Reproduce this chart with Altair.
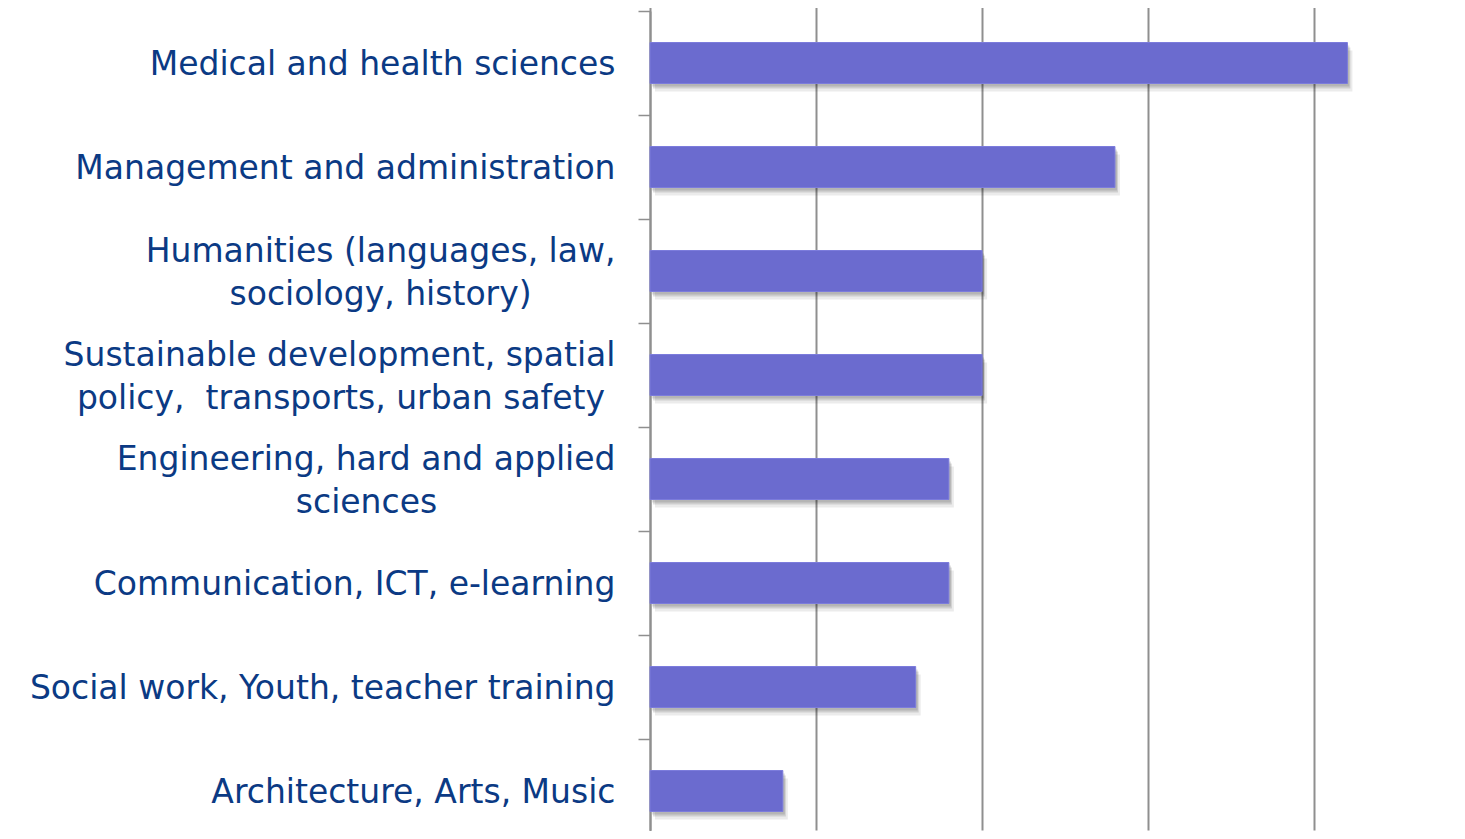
import altair as alt
import pandas as pd

NB = "\u00a0"
categories = [
    "Medical and health sciences",
    "Management and administration",
    "Humanities (languages, law,|sociology, history)" + NB * 8 + "\u200b",
    "Sustainable development, spatial|policy," + NB + " transports, urban safety" + NB + "\u200b",
    "Engineering, hard and applied|sciences" + NB * 17 + "\u200b",
    "Communication, ICT, e-learning",
    "Social work, Youth, teacher training",
    "Architecture, Arts, Music",
]
values = [21, 14, 10, 10, 9, 9, 8, 4]
grid_values = [0, 5, 10, 15, 20]

df = pd.DataFrame({"category": categories, "value": values})

FONT = "DejaVu Sans"
TEXT_COLOR = "#0b3a84"
BAR_COLOR = "#6b6bcf"
GRID_COLOR = "#8f8f8f"

y_enc = alt.Y(
    "category:N",
    sort=categories,
    title=None,
    scale=alt.Scale(range=[1, 833], paddingInner=0, paddingOuter=0),
    axis=alt.Axis(
        labelExpr="split(datum.label, '|')",
        labelFont=FONT,
        labelFontSize=33,
        labelColor=TEXT_COLOR,
        labelLimit=800,
        labelPadding=23,
        labelLineHeight=43,
        labelAlign="right",
        labelOffset={
            "condition": {"test": "indexof(datum.label, '|') >= 0", "value": -20},
            "value": 1,
        },
        tickBand="extent",
        tickSize=12,
        tickColor=GRID_COLOR,
        tickWidth=1.5,
        domainColor=GRID_COLOR,
        domainWidth=2,
        grid=False,
    ),
)

x_enc = alt.X(
    "value:Q",
    title=None,
    scale=alt.Scale(domain=[0, 24.3], nice=False, zero=True),
    axis=alt.Axis(
        values=grid_values,
        labels=False,
        ticks=False,
        domain=False,
        grid=True,
        gridColor=GRID_COLOR,
        gridWidth=2,
        gridOpacity=1,
    ),
)

base = alt.Chart(df)

shadow1 = base.mark_bar(color="#000000", opacity=0.08, size=41, xOffset=5, yOffset=8).encode(
    x=x_enc, y=y_enc
)
shadow2 = base.mark_bar(color="#000000", opacity=0.12, size=41, xOffset=3, yOffset=5).encode(
    x=x_enc, y=y_enc
)
shadow3 = base.mark_bar(color="#000000", opacity=0.12, size=41, xOffset=2, yOffset=3).encode(
    x=x_enc, y=y_enc
)
bars = base.mark_bar(color=BAR_COLOR, stroke="#7c7cdc", strokeWidth=1, size=41).encode(
    x=x_enc, y=y_enc
)

chart = (
    alt.layer(shadow1, shadow2, shadow3, bars)
    .properties(
        width=807,
        height=821,
        autosize=alt.AutoSizeParams(type="none"),
        padding={"left": 642, "top": 2, "right": 0, "bottom": 0},
        background="white",
    )
    .configure_view(stroke=None)
)

chart.save("out.html", embed_options={"renderer": "svg", "actions": False})
